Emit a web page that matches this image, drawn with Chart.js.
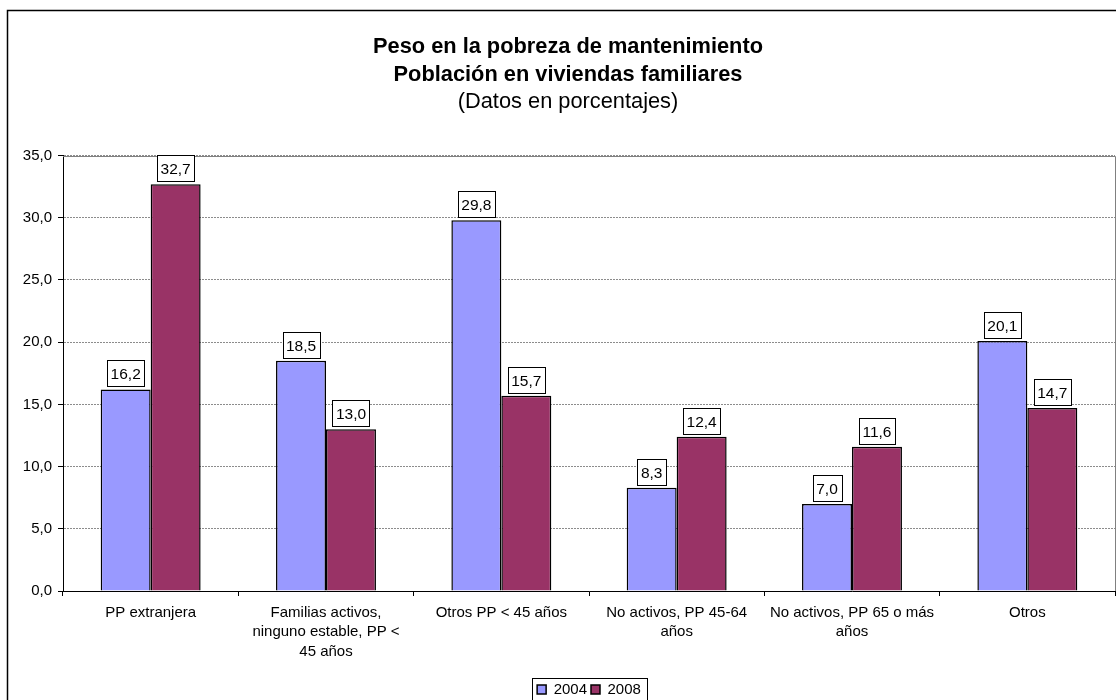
<!DOCTYPE html>
<html lang="es">
<head>
<meta charset="utf-8">
<title>Peso en la pobreza de mantenimiento</title>
<script src="https://cdn.jsdelivr.net/npm/chart.js@4.4.0/dist/chart.umd.min.js"></script>
<style>
  html, body { margin: 0; padding: 0; background: #fff; overflow: hidden; }
  canvas { display: block; }
</style>
</head>
<body>
<canvas id="chart" width="1136" height="716"></canvas>
<script>
const categories = [
  'PP extranjera',
  ['Familias activos,', 'ninguno estable, PP <', '45 años'],
  'Otros PP < 45 años',
  ['No activos, PP 45-64', 'años'],
  ['No activos, PP 65 o más', 'años'],
  'Otros'
];
const seriesNames = ['2004', '2008'];
const values2004 = [16.2, 18.5, 29.8, 8.3, 7.0, 20.1];
const values2008 = [32.7, 13.0, 15.7, 12.4, 11.6, 14.7];
const titleLines = ['Peso en la pobreza de mantenimiento', 'Población en viviendas familiares'];
const subtitleText = '(Datos en porcentajes)';

const FONT = "'Liberation Sans', Arial, sans-serif";
const fmt = v => v.toFixed(1).replace('.', ',');

// outer frame of the chart object
const frame = {
  id: 'frame',
  afterDraw(chart) {
    const { ctx, width, height } = chart;
    ctx.save();
    ctx.strokeStyle = '#000';
    ctx.lineWidth = 1.5;
    ctx.strokeRect(7.5, 10.5, width - 15, height - 21);
    ctx.restore();
  }
};

// gray border of the plot area (top and right; left/bottom are the axes)
const plotBorder = {
  id: 'plotBorder',
  beforeDatasetsDraw(chart) {
    const { ctx, chartArea: a } = chart;
    ctx.save();
    ctx.strokeStyle = '#808080';
    ctx.lineWidth = 1;
    ctx.beginPath();
    ctx.moveTo(a.left, Math.round(a.top) + 0.5);
    ctx.lineTo(Math.round(a.right) + 0.5, Math.round(a.top) + 0.5);
    ctx.lineTo(Math.round(a.right) + 0.5, a.bottom);
    ctx.stroke();
    ctx.restore();
  }
};

// boxed value labels above each bar
const valueBoxes = {
  id: 'valueBoxes',
  afterDatasetsDraw(chart) {
    const ctx = chart.ctx;
    ctx.save();
    ctx.font = '15.5px ' + FONT;
    ctx.textAlign = 'center';
    ctx.textBaseline = 'middle';
    chart.data.datasets.forEach((ds, i) => {
      chart.getDatasetMeta(i).data.forEach((bar, j) => {
        const text = fmt(ds.data[j]);
        const w = Math.round(ctx.measureText(text).width + 7);
        const h = 26;
        const x = Math.round(bar.x - w / 2) + 0.5;
        const y = Math.round(bar.y - 3 - h) + 0.5;
        ctx.fillStyle = '#fff';
        ctx.fillRect(x, y, w, h);
        ctx.strokeStyle = '#000';
        ctx.lineWidth = 1;
        ctx.strokeRect(x, y, w, h);
        ctx.fillStyle = '#000';
        ctx.fillText(text, bar.x, y + h / 2 + 1);
      });
    });
    ctx.restore();
  }
};

// frame around the legend entries
const legendFrame = {
  id: 'legendFrame',
  afterDraw(chart) {
    const boxes = chart.legend && chart.legend.legendHitBoxes;
    if (!boxes || !boxes.length) return;
    const first = boxes[0], last = boxes[boxes.length - 1];
    const ctx = chart.ctx;
    const left = Math.round(first.left - 5) + 0.5;
    const right = Math.round(last.left + last.width + 6) + 0.5;
    const top = Math.round(chart.legend.top) + 0.5;
    ctx.save();
    ctx.strokeStyle = '#000';
    ctx.lineWidth = 1;
    ctx.strokeRect(left, top, right - left, 40);
    ctx.restore();
  }
};

new Chart(document.getElementById('chart'), {
  type: 'bar',
  data: {
    labels: categories,
    datasets: [
      {
        label: seriesNames[0],
        data: values2004,
        backgroundColor: '#9999FF',
        borderColor: '#000',
        borderWidth: 1.5
      },
      {
        label: seriesNames[1],
        data: values2008,
        backgroundColor: '#993366',
        borderColor: '#000',
        borderWidth: 1.5
      }
    ]
  },
  options: {
    responsive: false,
    devicePixelRatio: 1,
    animation: false,
    categoryPercentage: 0.57,
    barPercentage: 1,
    layout: { padding: { left: 21, right: 21, top: 0, bottom: 9 } },
    scales: {
      x: {
        grid: { display: true, drawOnChartArea: false, tickLength: 5, tickColor: '#000', offset: true },
        border: { color: '#000', width: 1 },
        ticks: {
          color: '#000',
          font: { family: FONT, size: 15, lineHeight: 1.3 },
          padding: 7,
          maxRotation: 0,
          autoSkip: false
        },
        afterFit(scale) { scale.height = 87; }
      },
      y: {
        min: 0,
        max: 35,
        grid: { color: '#8c8c8c', tickLength: 5, tickColor: '#000' },
        border: { color: '#000', width: 1, dash: [2, 1] },
        ticks: {
          stepSize: 5,
          color: '#000',
          font: { family: FONT, size: 15 },
          padding: 6,
          callback: v => fmt(v)
        },
        afterFit(scale) { scale.width = 42; }
      }
    },
    plugins: {
      title: {
        display: true,
        text: titleLines,
        color: '#000',
        font: { family: FONT, size: 21.8, weight: 'bold', lineHeight: 1.27 },
        padding: { top: 33, bottom: 0 }
      },
      subtitle: {
        display: true,
        text: subtitleText,
        color: '#000',
        font: { family: FONT, size: 21.8, weight: 'normal', lineHeight: 1.27 },
        padding: { top: 0, bottom: 39.5 }
      },
      legend: {
        position: 'bottom',
        fullSize: false,
        labels: {
          color: '#000',
          font: { family: FONT, size: 15 },
          boxWidth: 9,
          boxHeight: 9,
          padding: 4
        }
      },
      tooltip: { enabled: false }
    }
  },
  plugins: [plotBorder, valueBoxes, legendFrame, frame]
});
</script>
</body>
</html>
